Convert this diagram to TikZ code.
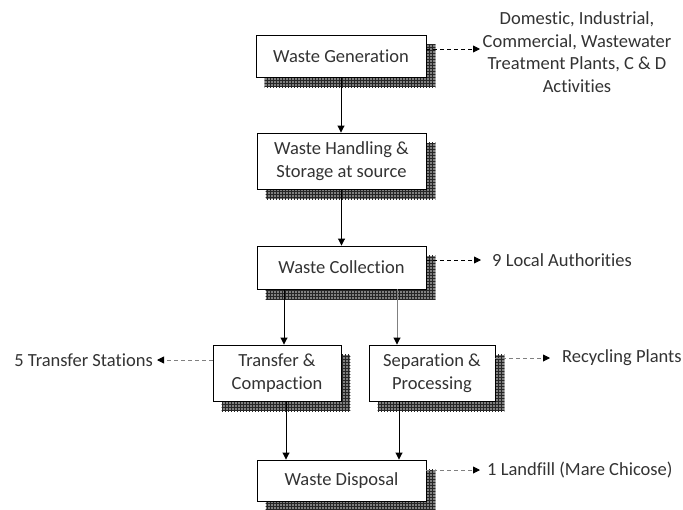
\documentclass[tikz,border=0pt]{standalone}
\usepackage{fontspec}
\setmainfont{Carlito}[Ligatures=NoCommon]
\usetikzlibrary{arrows.meta,patterns,backgrounds}
\newcommand\myshadow[1]{%
  \fill[black!50] ([shift={(9,10)}]#1.north west) rectangle ([shift={(9,10)}]#1.south east);
  \fill[pattern=grid, pattern color=black!85] ([shift={(9,10)}]#1.north west) rectangle ([shift={(9,10)}]#1.south east);}
\begin{document}
\begin{tikzpicture}[x=1pt,y=-1pt,
  box/.style={draw=black, fill=white, line width=0.9pt, align=center, text=black!80, inner sep=0pt},
  lbl/.style={text=black!80, inner sep=0pt, align=center},
  arr/.style={line width=0.9pt, -{Triangle[length=7pt,width=7pt,color=black]}},
  darr/.style={line width=0.9pt, dash pattern=on 4pt off 3pt, -{Triangle[length=7pt,width=7pt,color=black]}},
  font=\fontsize{18.5}{22.5}\selectfont]
\useasboundingbox (0,0) rectangle (683,509);

\node[box, minimum width=170pt, minimum height=42pt] (b1) at (341,56) {Waste Generation};
\node[box, minimum width=169pt, minimum height=56pt] (b2) at (341.5,161) {Waste Handling \&\\Storage at source};
\node[box, minimum width=169pt, minimum height=43pt] (b3) at (341.5,267.5) {Waste Collection};
\node[box, minimum width=128pt, minimum height=56pt] (b4) at (277,373) {Transfer \&\\Compaction};
\node[box, minimum width=126pt, minimum height=56pt] (b5) at (432,373) {Separation \&\\Processing};
\node[box, minimum width=169pt, minimum height=41pt] (b6) at (341.5,480.5) {Waste Disposal};

\begin{scope}[on background layer]
\fill[white] (0,0) rectangle (683,509);
\myshadow{b1}\myshadow{b2}\myshadow{b3}\myshadow{b4}\myshadow{b5}\myshadow{b6}
\end{scope}

\node[lbl] (l1) at (577,52) {Domestic, Industrial,\\Commercial, Wastewater\\Treatment Plants, C \& D\\Activities};
\node[lbl, anchor=west] (l3) at (492,260) {9 Local Authorities};
\node[lbl, anchor=east] (l4) at (153,360) {5 Transfer Stations};
\node[lbl, anchor=west] (l5) at (562,358) {Recycling Plants};
\node[lbl, anchor=west] (l6) at (487,470) {1 Landfill (Mare Chicose)};
\coordinate (t1) at (480,49);

\draw[arr] (b1.south) -- (b1.south |- b2.north);
\draw[arr] (b2.south) -- (b2.south |- b3.north);
\draw[arr] ([xshift=-57.5pt]b3.south) -- ([xshift=-57.5pt]b3.south |- b4.north);
\draw[arr, draw=gray] ([xshift=55.5pt]b3.south) -- ([xshift=55.5pt]b3.south |- b5.north);
\draw[arr] ([xshift=-55.5pt]b6.north |- b4.south) -- ([xshift=-55.5pt]b6.north);
\draw[arr] ([xshift=57.5pt]b6.north |- b5.south) -- ([xshift=57.5pt]b6.north);

\draw[darr] (b1.east |- t1) -- (t1);
\draw[darr, shorten >=11pt] (b3.east |- l3.west) -- (l3.west);
\draw[darr, draw=gray, shorten >=4pt] (b4.west |- l4.east) -- (l4.east);
\draw[darr, draw=gray, shorten >=12pt] (b5.east |- l5.west) -- (l5.west);
\draw[darr, draw=gray, shorten >=7pt] (b6.east |- l6.west) -- (l6.west);
\end{tikzpicture}
\end{document}
